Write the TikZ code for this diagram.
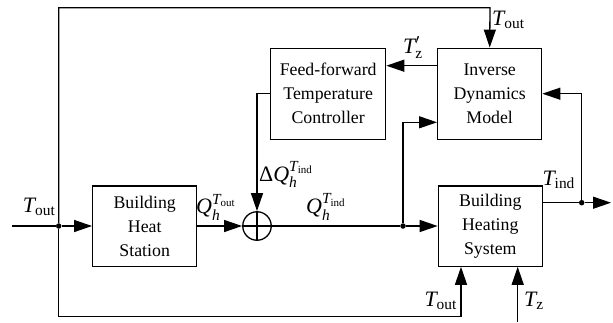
\documentclass[tikz,border=0pt]{standalone}
\usepackage{fontspec}
\setmainfont{Liberation Serif}
\usepackage{amsmath}
\usetikzlibrary{arrows.meta}
\begin{document}
\begin{tikzpicture}[x=1pt,y=-1pt,
  blk/.style={draw,line width=1.3pt,align=center,inner sep=0pt,
              font=\fontsize{17.8}{24}\selectfont},
  sig/.style={line width=1.3pt},
  arr/.style={sig,-{Triangle[length=18pt,width=12pt]}},
  dot/.style={circle,fill,inner sep=0pt,minimum size=5.5pt},
  lbl/.style={inner sep=0pt,font=\fontsize{22}{26}\selectfont}]
\useasboundingbox (0,0) rectangle (613,322);

% blocks
\node[blk,minimum width=115pt,minimum height=91pt] (ff) at (328.2,93.7)
  {Feed-forward\\Temperature\\Controller};
\node[blk,minimum width=104pt,minimum height=91pt] (idm) at (489.7,93.7)
  {Inverse\\Dynamics\\Model};
\node[blk,minimum width=104pt,minimum height=80.3pt] (bhst) at (144.7,226)
  {Building\\Heat\\Station};
\node[blk,minimum width=104pt,minimum height=80.3pt] (bhsys) at (490.3,226)
  {Building\\Heating\\System};

% summing junction
\node[circle,draw,line width=1.3pt,minimum size=28.5pt,inner sep=0pt] (sum) at (257,226) {};
\draw[sig] (sum.north) -- (sum.south) (sum.west) -- (sum.east);

% branch points and free ends
\node[dot] (j1) at (58.7,226) {};
\node[dot] (j2) at (403,226) {};
\node[dot] (j3) at (581.7,202.7) {};
\coordinate (in) at (12,226);
\coordinate (out) at (611,202.7);
\coordinate (tr) at (490,7.7);
\coordinate (br) at (461,316.7);
\coordinate (tzin) at (517.7,322);

% outdoor temperature feeds
\draw[sig] (in) -- (j1);
\draw[arr] (j1) -- (bhst);
\draw[arr] (j1) |- (tr) -- (idm.north);
\draw[arr] (j1) |- (br) -- (br |- bhsys.south);
\draw[arr] (tzin) -- (tzin |- bhsys.south);

% heat flow path
\draw[arr] (bhst) -- (sum);
\draw[sig] (sum) -- (j2);
\draw[arr] (j2) -- (bhsys);
\draw[arr] (j2) |- (idm.west |- 0,122.3);

% feed-forward correction
\draw[arr] (idm.west |- 0,65.7) -- (ff.east |- 0,65.7);
\draw[arr] (ff.west) -| (sum.north);

% indoor temperature output
\draw[sig] (bhsys.east |- j3) -- (j3);
\draw[arr] (j3) -- (out);
\draw[arr] (j3) |- (idm.east);

% signal labels
\node[lbl,anchor=base west] (lin) at (22.7,212.3) {$\textit{T}_{\text{out}}$};
\node[lbl,anchor=base west] (ltop) at (492,25.7) {$\textit{T}_{\text{out}}$};
\node[lbl,anchor=base west] (ltz) at (403,53.3) {$\textit{T}'_{\text{z}}$};
\node[lbl,anchor=base west] (ldq) at (259,181) {$\text{Δ}\textit{Q}_{\textit{h}}^{\textit{T}_{\text{ind}}}$};
\node[lbl,anchor=base west] (lqo) at (196,213.5) {$\textit{Q}_{\textit{h}}^{\textit{T}_{\text{out}}}$};
\node[lbl,anchor=base west] (lqi) at (306,213.5) {$\textit{Q}_{\textit{h}}^{\textit{T}_{\text{ind}}}$};
\node[lbl,anchor=base west] (lti) at (542.3,185) {$\textit{T}_{\text{ind}}$};
\node[lbl,anchor=base west] (lbo) at (424.3,306.7) {$\textit{T}_{\text{out}}$};
\node[lbl,anchor=base west] (lbz) at (524,306.7) {$\textit{T}_{\text{z}}$};
\end{tikzpicture}
\end{document}
